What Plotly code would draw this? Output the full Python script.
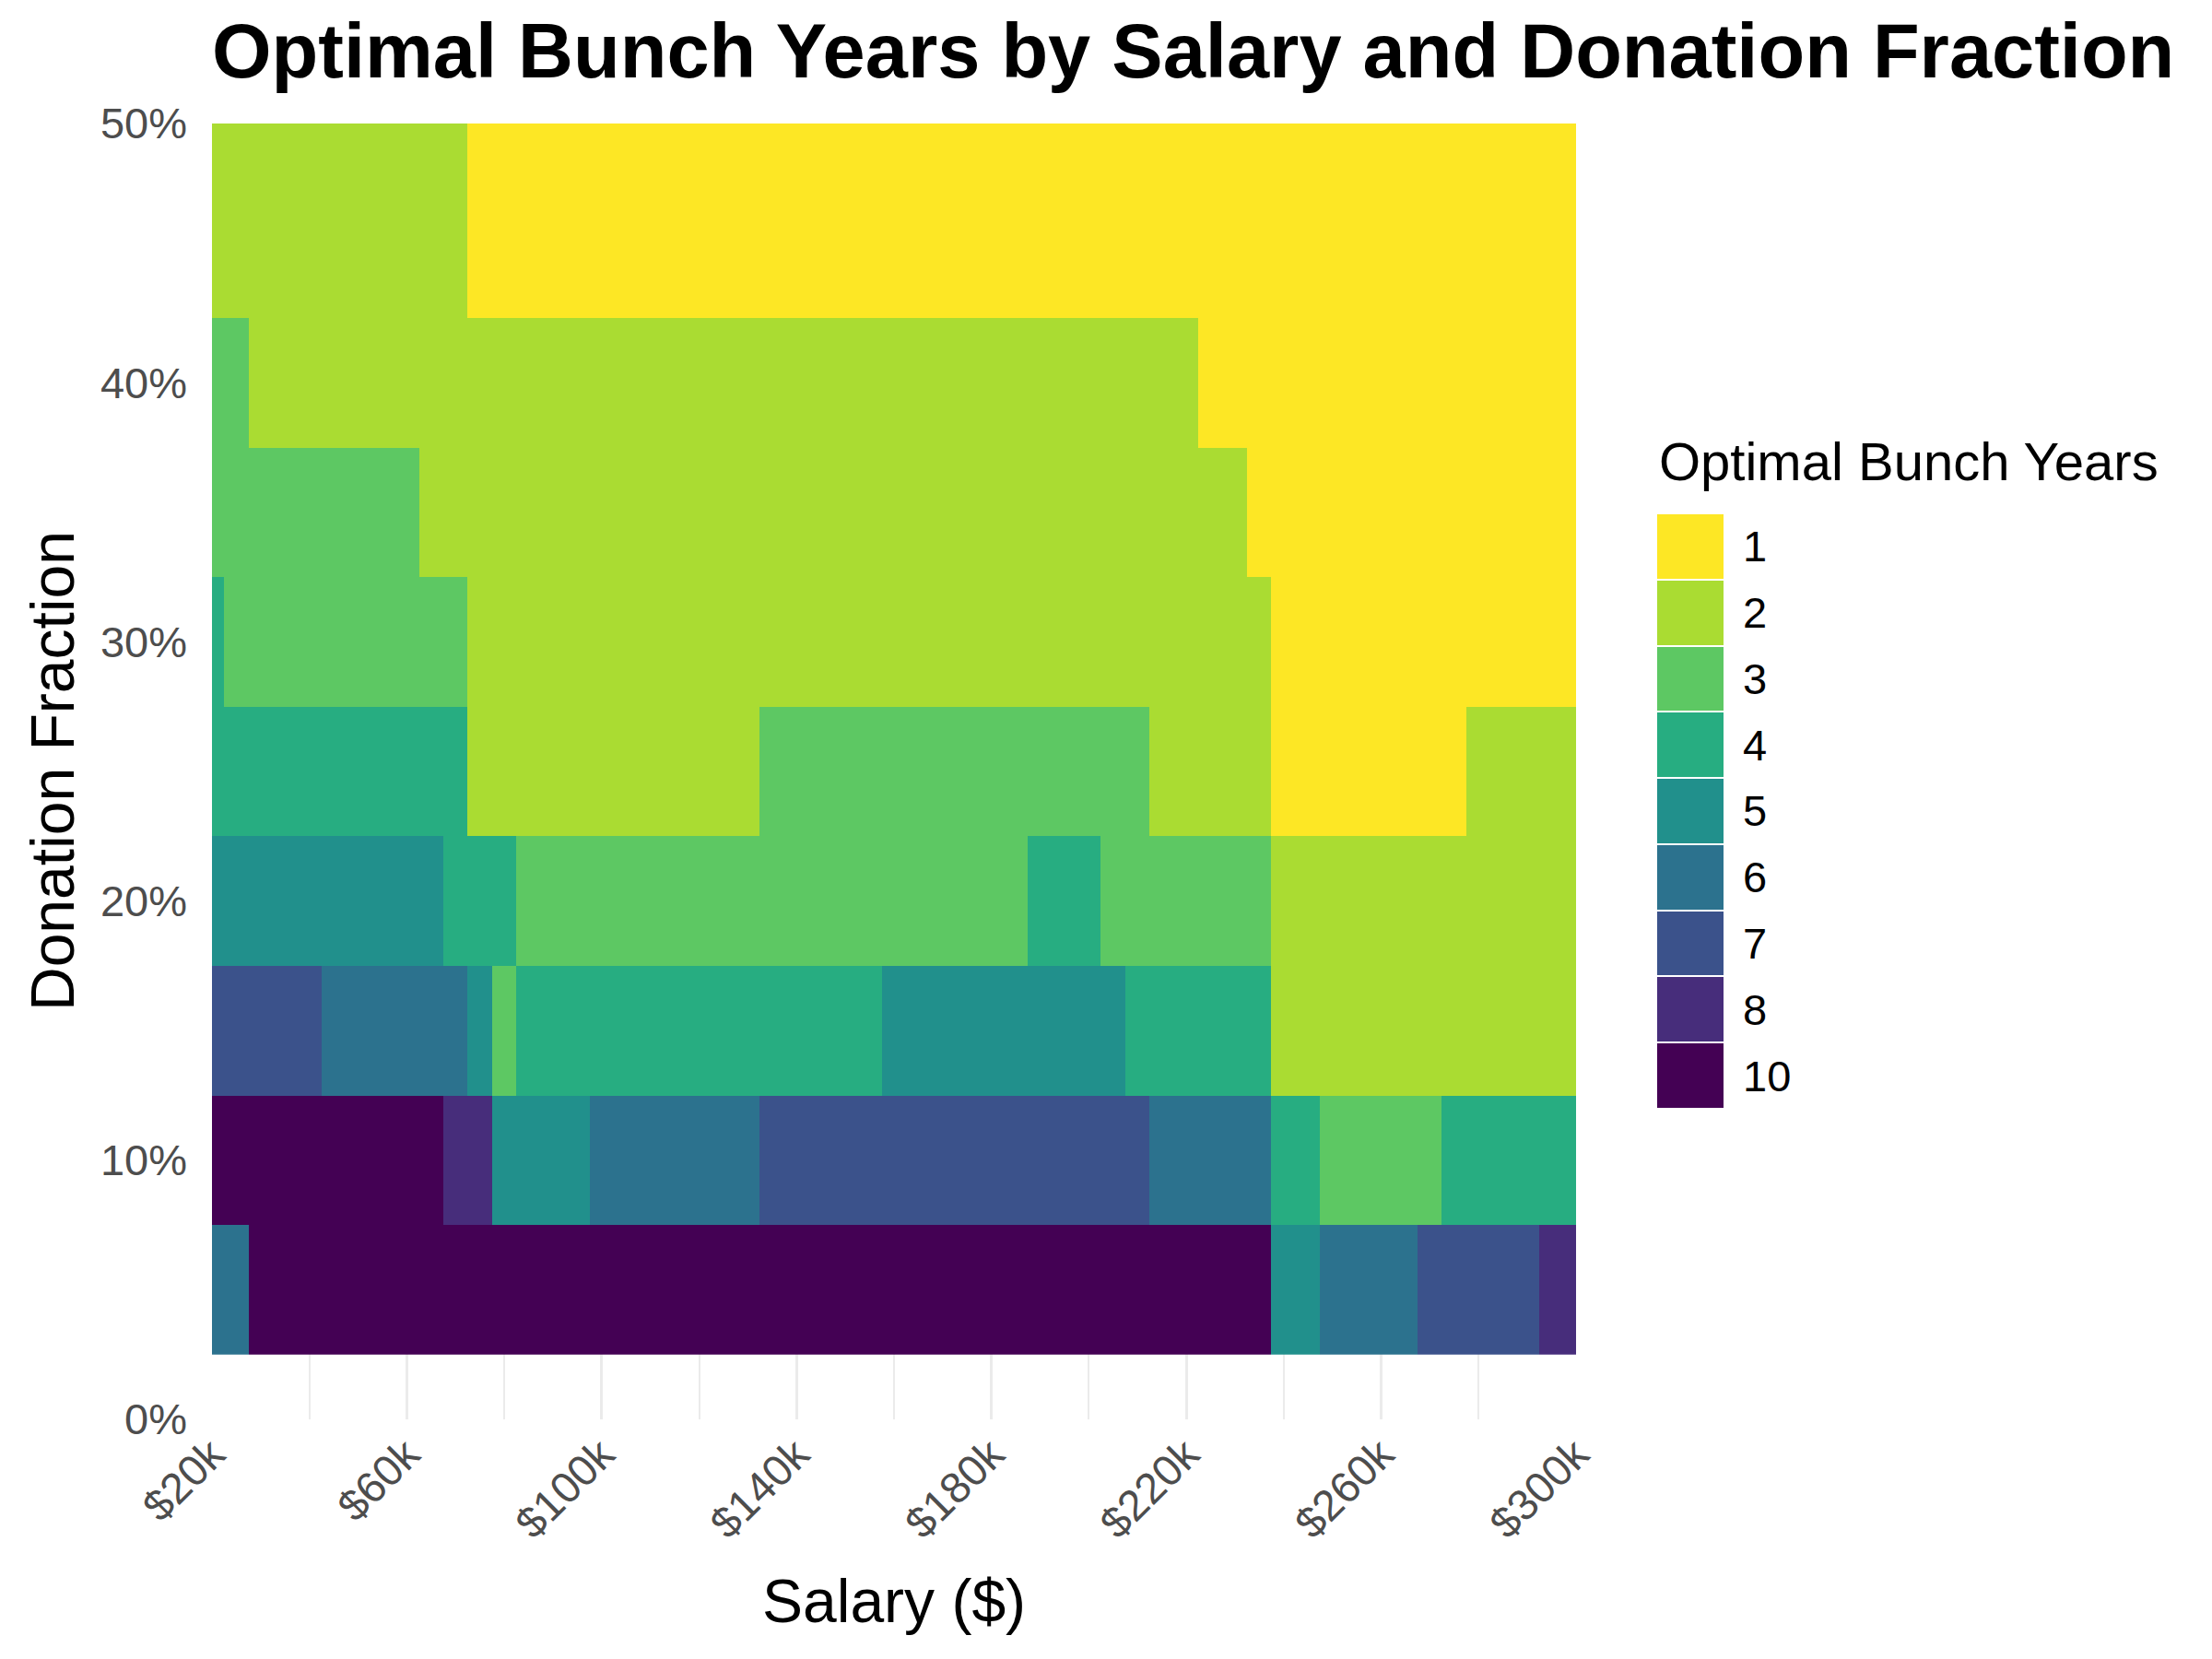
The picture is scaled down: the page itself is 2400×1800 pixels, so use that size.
import plotly.graph_objects as go

# ---------------- data ----------------
salaries = [20000, 25000, 30000, 35000, 40000, 45000, 50000, 55000, 60000, 65000,
            70000, 75000, 80000, 85000, 90000, 95000, 100000, 105000, 110000, 115000,
            120000, 125000, 130000, 135000, 140000, 145000, 150000, 155000, 160000, 165000,
            170000, 175000, 180000, 185000, 190000, 195000, 200000, 205000, 210000, 215000,
            220000, 225000, 230000, 235000, 240000, 245000, 250000, 255000, 260000, 265000,
            270000, 275000, 280000, 285000, 290000, 295000, 300000]

fractions = [0.05, 0.10, 0.15, 0.20, 0.25, 0.30, 0.35, 0.40, 0.45, 0.50]

row_05 = [6, 6, 10, 10, 10, 10, 10, 10, 10, 10,
          10, 10, 10, 10, 10, 10, 10, 10, 10, 10,
          10, 10, 10, 10, 10, 10, 10, 10, 10, 10,
          10, 10, 10, 10, 10, 10, 10, 10, 10, 10,
          10, 10, 10, 10, 5, 5, 6, 6, 6, 6,
          7, 7, 7, 7, 7, 8, 8]
row_10 = [10, 10, 10, 10, 10, 10, 10, 10, 10, 10,
          8, 8, 5, 5, 5, 5, 6, 6, 6, 6,
          6, 6, 6, 7, 7, 7, 7, 7, 7, 7,
          7, 7, 7, 7, 7, 7, 7, 7, 7, 6,
          6, 6, 6, 6, 4, 4, 3, 3, 3, 3,
          3, 4, 4, 4, 4, 4, 4]
row_15 = [7, 7, 7, 7, 7, 6, 6, 6, 6, 6,
          6, 5, 3, 4, 4, 4, 4, 4, 4, 4,
          4, 4, 4, 4, 4, 4, 4, 4, 5, 5,
          5, 5, 5, 5, 5, 5, 5, 5, 4, 4,
          4, 4, 4, 4, 2, 2, 2, 2, 2, 2,
          2, 2, 2, 2, 2, 2, 2]
row_20 = [5, 5, 5, 5, 5, 5, 5, 5, 5, 5,
          4, 4, 4, 3, 3, 3, 3, 3, 3, 3,
          3, 3, 3, 3, 3, 3, 3, 3, 3, 3,
          3, 3, 3, 3, 4, 4, 4, 3, 3, 3,
          3, 3, 3, 3, 2, 2, 2, 2, 2, 2,
          2, 2, 2, 2, 2, 2, 2]
row_25 = [4, 4, 4, 4, 4, 4, 4, 4, 4, 4,
          4, 2, 2, 2, 2, 2, 2, 2, 2, 2,
          2, 2, 2, 3, 3, 3, 3, 3, 3, 3,
          3, 3, 3, 3, 3, 3, 3, 3, 3, 2,
          2, 2, 2, 2, 1, 1, 1, 1, 1, 1,
          1, 1, 2, 2, 2, 2, 2]
row_30 = [4, 3, 3, 3, 3, 3, 3, 3, 3, 3,
          3, 2, 2, 2, 2, 2, 2, 2, 2, 2,
          2, 2, 2, 2, 2, 2, 2, 2, 2, 2,
          2, 2, 2, 2, 2, 2, 2, 2, 2, 2,
          2, 2, 2, 2, 1, 1, 1, 1, 1, 1,
          1, 1, 1, 1, 1, 1, 1]
row_35 = [3, 3, 3, 3, 3, 3, 3, 3, 3, 2,
          2, 2, 2, 2, 2, 2, 2, 2, 2, 2,
          2, 2, 2, 2, 2, 2, 2, 2, 2, 2,
          2, 2, 2, 2, 2, 2, 2, 2, 2, 2,
          2, 2, 2, 1, 1, 1, 1, 1, 1, 1,
          1, 1, 1, 1, 1, 1, 1]
row_40 = [3, 3, 2, 2, 2, 2, 2, 2, 2, 2,
          2, 2, 2, 2, 2, 2, 2, 2, 2, 2,
          2, 2, 2, 2, 2, 2, 2, 2, 2, 2,
          2, 2, 2, 2, 2, 2, 2, 2, 2, 2,
          2, 1, 1, 1, 1, 1, 1, 1, 1, 1,
          1, 1, 1, 1, 1, 1, 1]
row_45 = [2, 2, 2, 2, 2, 2, 2, 2, 2, 2,
          2, 1, 1, 1, 1, 1, 1, 1, 1, 1,
          1, 1, 1, 1, 1, 1, 1, 1, 1, 1,
          1, 1, 1, 1, 1, 1, 1, 1, 1, 1,
          1, 1, 1, 1, 1, 1, 1, 1, 1, 1,
          1, 1, 1, 1, 1, 1, 1]
row_50 = [2, 2, 2, 2, 2, 2, 2, 2, 2, 2,
          2, 1, 1, 1, 1, 1, 1, 1, 1, 1,
          1, 1, 1, 1, 1, 1, 1, 1, 1, 1,
          1, 1, 1, 1, 1, 1, 1, 1, 1, 1,
          1, 1, 1, 1, 1, 1, 1, 1, 1, 1,
          1, 1, 1, 1, 1, 1, 1]

bunch_levels = [1, 2, 3, 4, 5, 6, 7, 8, 10]
level_colors = ["#FDE725", "#AADC32", "#5DC863", "#27AD81", "#21908C",
                "#2C728E", "#3B528B", "#472D7B", "#440154"]

x_tick_vals = [20000, 60000, 100000, 140000, 180000, 220000, 260000, 300000]
x_tick_text = ["$20k", "$60k", "$100k", "$140k", "$180k", "$220k", "$260k", "$300k"]

# ---------------- build ----------------
grid = [row_05, row_10, row_15, row_20, row_25, row_30, row_35, row_40, row_45, row_50]

order = list(reversed(bunch_levels))          # bottom -> top in legend
colors_by_idx = list(reversed(level_colors))
n = len(order)
level_index = {v: i for i, v in enumerate(order)}
z = [[level_index[v] for v in row] for row in grid]

colorscale = []
for i, c in enumerate(colors_by_idx):
    colorscale.append([i / n, c])
    colorscale.append([(i + 1) / n, c])

FONT = "Liberation Sans, Arial, Helvetica, sans-serif"
W, H = 2400, 1800
OFF = 8  # page body margin added by the browser
# target screen positions
SX0, SX1 = 230, 1710     # plot left / right on screen
SY0, SY1 = 134, 1540     # plot top / bottom on screen
L = SX0 - OFF
T = SY0 - OFF
R = 20
B = H - (SY1 - OFF)
PW = W - L - R
PH = H - T - B


def px_x(px):
    return (px - OFF - L) / PW


def px_y(py):
    return (H - B - (py - OFF)) / PH


fig = go.Figure()

fig.add_trace(go.Heatmap(
    x=salaries, y=fractions, z=z, customdata=grid,
    colorscale=colorscale, zmin=-0.5, zmax=n - 0.5, showscale=False,
    hovertemplate="Salary: %{x}<br>Fraction: %{y}<br>Years: %{customdata}<extra></extra>",
    xaxis="x", yaxis="y",
))

# legend keys drawn as a one-column heatmap
fig.add_trace(go.Heatmap(
    x=[0], y=list(range(n)), z=[[i] for i in range(n)],
    colorscale=colorscale, zmin=-0.5, zmax=n - 0.5, showscale=False,
    ygap=2, hoverinfo="skip", xaxis="x2", yaxis="y2",
))

fig.update_layout(
    width=W, height=H,
    margin=dict(l=L, r=R, t=T, b=B, autoexpand=False),
    paper_bgcolor="white", plot_bgcolor="white",
    font=dict(family=FONT, color="black"),
    showlegend=False,
    title=dict(text="<b>Optimal Bunch Years by Salary and Donation Fraction</b>",
               font=dict(size=83, family=FONT, color="black"),
               x=0, xref="paper", xanchor="left",
               y=1 - (55 - OFF) / H, yref="container", yanchor="middle"),
    xaxis=dict(
        domain=[0, px_x(SX1)], range=[20000, 300000], anchor="y",
        tickmode="array", tickvals=x_tick_vals, ticktext=x_tick_text,
        tickangle=-45, tickfont=dict(size=47, color="#4D4D4D"),
        showgrid=True, gridcolor="#EBEBEB", gridwidth=3,
        minor=dict(tickmode="linear", tick0=0, dtick=20000, showgrid=True,
                   gridcolor="#EBEBEB", gridwidth=1.7),
        zeroline=False, showline=False, ticks="", automargin=False,
        ticklabelstandoff=0,
    ),
    yaxis=dict(
        domain=[0, 1], range=[0, 0.5], anchor="x",
        tickmode="linear", tick0=0, dtick=0.1, tickformat=".0%",
        tickfont=dict(size=47, color="#4D4D4D"),
        showgrid=True, gridcolor="#EBEBEB", gridwidth=3,
        zeroline=False, showline=False, ticks="", ticklabelstandoff=26,
        automargin=False,
    ),
    xaxis2=dict(domain=[px_x(1798), px_x(1870)], range=[-0.5, 0.5], anchor="y2",
                visible=False, fixedrange=True, automargin=False),
    yaxis2=dict(domain=[px_y(1203), px_y(557)], range=[-0.5, n - 0.5], anchor="x2",
                side="right", tickmode="array", tickvals=list(range(n)),
                ticktext=[str(v) for v in order],
                tickfont=dict(size=47, color="black"),
                showgrid=False, zeroline=False, showline=False, ticks="",
                ticklabelstandoff=20, fixedrange=True, automargin=False),
    annotations=[
        dict(text="Optimal Bunch Years", xref="paper", yref="paper",
             x=px_x(1798), y=px_y(500), xanchor="left", yanchor="middle",
             showarrow=False, font=dict(size=58, color="black", family=FONT)),
        dict(text="Donation Fraction", xref="paper", yref="paper",
             x=px_x(57), y=px_y(837), xanchor="center", yanchor="middle",
             textangle=-90, showarrow=False,
             font=dict(size=66, color="black", family=FONT)),
        dict(text="Salary ($)", xref="paper", yref="paper",
             x=px_x(970), y=px_y(1737), xanchor="center", yanchor="middle",
             showarrow=False, font=dict(size=66, color="black", family=FONT)),
    ],
)

fig.write_html("out.html")
